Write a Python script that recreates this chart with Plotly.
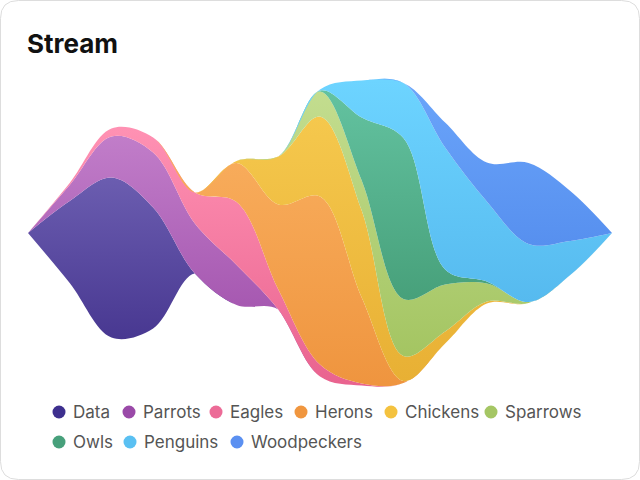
import plotly.graph_objects as go

# ---- data ----
steps = list(range(15))
series_names = ["Data", "Parrots", "Eagles", "Herons", "Chickens",
                "Sparrows", "Owls", "Penguins", "Woodpeckers"]
data_vals        = [0, 82, 160, 121, 0, 0, 0, 0, 0, 0, 0, 0, 0, 0, 0]
parrots_vals     = [0, 16, 41, 55, 50, 40, 0, 0, 0, 0, 0, 0, 0, 0, 0]
eagles_vals      = [0, 2, 8, 15, 31, 63, 20, 12, 2, 0, 0, 0, 0, 0, 0]
herons_vals      = [0, 0, 0, 0, 0, 39, 85, 168, 86, 2, 0, 0, 0, 0, 0]
chickens_vals    = [0, 0, 0, 0, 0, 2, 48, 80, 87, 25, 12, 2, 0, 0, 0]
sparrows_vals    = [0, 0, 0, 0, 0, 0, 0, 25, 30, 57, 47, 18, 1, 0, 0]
owls_vals        = [0, 0, 0, 0, 0, 0, 0, 1, 63, 161, 15, 2, 0, 0, 0]
penguins_vals    = [0, 0, 0, 0, 0, 0, 0, 1, 37, 55, 122, 80, 58, 34, 0]
woodpeckers_vals = [0, 0, 0, 0, 0, 0, 0, 0, 0, 0, 25, 39, 81, 50, 0]

all_vals = [data_vals, parrots_vals, eagles_vals, herons_vals, chickens_vals,
            sparrows_vals, owls_vals, penguins_vals, woodpeckers_vals]

# ---- styles ----
top_colors = ["#6b5db0", "#c17dc9", "#ff91b3", "#f9af5f", "#f5c84d",
              "#c3dd8f", "#63c2a0", "#6dd4ff", "#6ba5fa"]
bottom_colors = ["#3e2d88", "#9a48a6", "#e9638f", "#ef953f", "#e8b034",
                 "#a4c562", "#47a07a", "#56baef", "#5790ef"]
dot_colors = ["#3d2f8e", "#9a4aa8", "#ec6b97", "#f0963f", "#f4c23f",
              "#a5c664", "#47a07b", "#5ac0f2", "#5b90f1"]

W, H = 640, 480
FONT = "Inter"

fig = go.Figure()

# silhouette baseline
totals = [sum(v[i] for v in all_vals) for i in range(len(steps))]
base = [-t / 2 for t in totals]

fig.add_trace(go.Scatter(x=steps, y=base, mode="lines",
                         line=dict(width=0, shape="spline", smoothing=1),
                         hoverinfo="skip", showlegend=False))
lower = base[:]
for name, vals, tc, bc in zip(series_names, all_vals, top_colors, bottom_colors):
    upper = [lo + v for lo, v in zip(lower, vals)]
    fig.add_trace(go.Scatter(
        x=steps, y=upper, name=name, mode="lines",
        line=dict(width=0, shape="spline", smoothing=1, color=bc),
        fill="tonexty",
        fillgradient=dict(type="vertical", start=min(lower), stop=max(upper),
                          colorscale=[[0, bc], [1, tc]]),
        showlegend=False, hoverinfo="skip"))
    lower = upper

# ---- card background ----
def px(x):
    return x / W

def py(y):
    return 1 - y / H

r = 18
x0, x1, y0, y1 = 0.5, W - 0.5, 0.5, H - 0.5
path = (f"M {px(x0 + r)} {py(y0)} L {px(x1 - r)} {py(y0)} "
        f"Q {px(x1)} {py(y0)} {px(x1)} {py(y0 + r)} "
        f"L {px(x1)} {py(y1 - r)} Q {px(x1)} {py(y1)} {px(x1 - r)} {py(y1)} "
        f"L {px(x0 + r)} {py(y1)} Q {px(x0)} {py(y1)} {px(x0)} {py(y1 - r)} "
        f"L {px(x0)} {py(y0 + r)} Q {px(x0)} {py(y0)} {px(x0 + r)} {py(y0)} Z")
shapes = [dict(type="path", path=path, xref="paper", yref="paper",
               fillcolor="white", line=dict(color="#dddddd", width=1), layer="below")]

# ---- custom legend ----
legend_pos = [(59, 412), (129, 412), (216, 412), (301, 412), (391, 412), (491, 412),
              (59, 442), (130, 442), (237, 442)]
annotations = [dict(text="Stream", x=px(25), y=py(43), xref="paper", yref="paper",
                    xanchor="left", yanchor="middle", showarrow=False,
                    font=dict(family=FONT, size=26, color="#111111", weight="bold"))]
for name, col, (lx, ly) in zip(series_names, dot_colors, legend_pos):
    shapes.append(dict(type="circle", xref="paper", yref="paper",
                       xsizemode="pixel", ysizemode="pixel",
                       xanchor=px(lx), yanchor=py(ly),
                       x0=-6.5, x1=6.5, y0=-6.5, y1=6.5,
                       fillcolor=col, line=dict(width=0)))
    annotations.append(dict(text=name, x=px(lx + 12), y=py(ly), xref="paper", yref="paper",
                            xanchor="left", yanchor="middle", showarrow=False,
                            font=dict(family=FONT, size=17, color="#555555")))

fig.update_layout(
    width=W, height=H,
    margin=dict(l=0, r=0, t=0, b=0),
    paper_bgcolor="white", plot_bgcolor="rgba(0,0,0,0)",
    xaxis=dict(range=[0, 14], domain=[px(28), px(612)], visible=False, fixedrange=True),
    yaxis=dict(range=[-(H - 233), 233], domain=[0, 1], visible=False, fixedrange=True),
    shapes=shapes, annotations=annotations,
    showlegend=False, hovermode=False,
)

fig.write_html("out.html", config={"displayModeBar": False},
               post_script="document.body.style.margin='0';")
